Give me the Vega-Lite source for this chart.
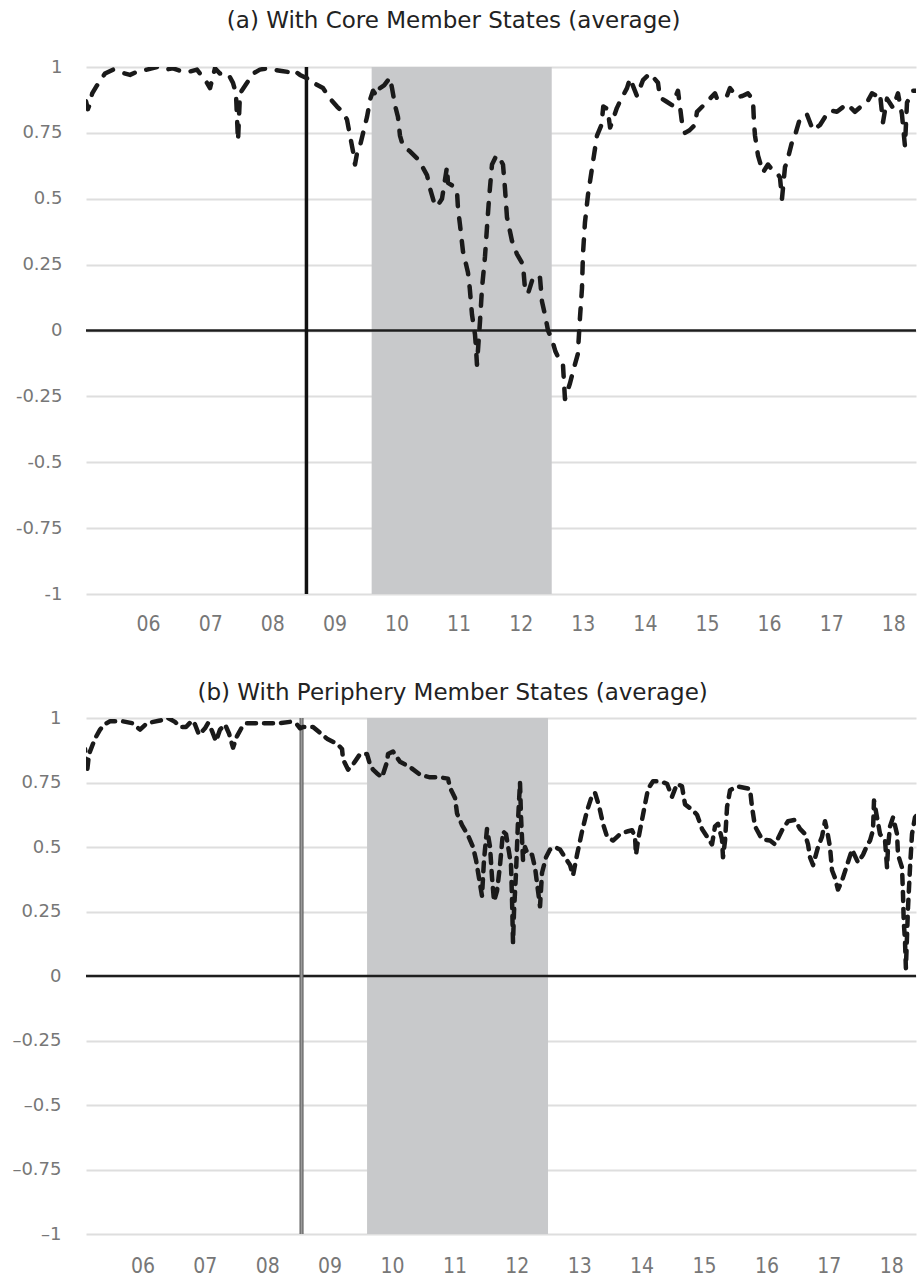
{
  "$schema": "https://vega.github.io/schema/vega-lite/v6.json",
  "background": "white",
  "padding": {"left": 0, "right": 1, "top": 10, "bottom": 0},
  "spacing": 48,
  "columns": 1,
  "config": {
    "view": {"stroke": null},
    "axisX": {"grid": false, "domain": false, "ticks": false, "labelFont": "Liberation Sans Narrow, DejaVu Sans Condensed, sans-serif", "labelFontSize": 21, "labelColor": "#777777", "labelFlush": false, "labelOverlap": false, "labelBound": false},
    "axisY": {"grid": true, "gridColor": "#dedede", "gridWidth": 2, "domain": false, "ticks": false, "labelFont": "DejaVu Sans", "labelFontSize": 18, "labelColor": "#777777", "labelOverlap": false, "labelFlush": false, "labelBound": false},
    "title": {"font": "DejaVu Sans", "fontSize": 23, "fontWeight": "normal", "color": "#222222"}
  },
  "datasets": {
    "crisis": [{"start": 2009.6, "end": 2012.5}],
    "lehman": [{"date": 2008.55}],
    "zero": [{"level": 0}],
    "core": [
      {"year": 2005.000, "value": 0.87}, {"year": 2005.030, "value": 0.84}, {"year": 2005.064, "value": 0.86}, {"year": 2005.100, "value": 0.90},
      {"year": 2005.177, "value": 0.93}, {"year": 2005.306, "value": 0.975}, {"year": 2005.435, "value": 0.99}, {"year": 2005.560, "value": 0.98},
      {"year": 2005.709, "value": 0.97}, {"year": 2005.850, "value": 0.985}, {"year": 2005.982, "value": 0.99}, {"year": 2006.143, "value": 1.0},
      {"year": 2006.280, "value": 0.99}, {"year": 2006.401, "value": 0.995}, {"year": 2006.520, "value": 0.985}, {"year": 2006.626, "value": 0.98},
      {"year": 2006.787, "value": 0.99}, {"year": 2006.948, "value": 0.94}, {"year": 2006.997, "value": 0.92}, {"year": 2007.077, "value": 0.995},
      {"year": 2007.158, "value": 0.975}, {"year": 2007.287, "value": 0.975}, {"year": 2007.367, "value": 0.94}, {"year": 2007.415, "value": 0.90},
      {"year": 2007.448, "value": 0.72}, {"year": 2007.480, "value": 0.90}, {"year": 2007.593, "value": 0.94}, {"year": 2007.689, "value": 0.975},
      {"year": 2007.800, "value": 0.99}, {"year": 2007.915, "value": 0.995}, {"year": 2008.011, "value": 0.99}, {"year": 2008.150, "value": 0.985},
      {"year": 2008.285, "value": 0.98}, {"year": 2008.333, "value": 0.99}, {"year": 2008.446, "value": 0.97}, {"year": 2008.559, "value": 0.957},
      {"year": 2008.607, "value": 0.94}, {"year": 2008.700, "value": 0.935}, {"year": 2008.816, "value": 0.92}, {"year": 2008.930, "value": 0.88},
      {"year": 2009.042, "value": 0.85}, {"year": 2009.130, "value": 0.83}, {"year": 2009.203, "value": 0.80}, {"year": 2009.251, "value": 0.74},
      {"year": 2009.300, "value": 0.68}, {"year": 2009.332, "value": 0.63}, {"year": 2009.370, "value": 0.68}, {"year": 2009.412, "value": 0.70},
      {"year": 2009.493, "value": 0.78}, {"year": 2009.525, "value": 0.81}, {"year": 2009.580, "value": 0.88}, {"year": 2009.622, "value": 0.91},
      {"year": 2009.680, "value": 0.89}, {"year": 2009.734, "value": 0.92}, {"year": 2009.800, "value": 0.93}, {"year": 2009.895, "value": 0.96},
      {"year": 2009.928, "value": 0.92}, {"year": 2009.976, "value": 0.855}, {"year": 2010.024, "value": 0.81}, {"year": 2010.056, "value": 0.74},
      {"year": 2010.105, "value": 0.70}, {"year": 2010.160, "value": 0.69}, {"year": 2010.217, "value": 0.68}, {"year": 2010.346, "value": 0.65},
      {"year": 2010.420, "value": 0.62}, {"year": 2010.491, "value": 0.59}, {"year": 2010.539, "value": 0.54}, {"year": 2010.600, "value": 0.49},
      {"year": 2010.652, "value": 0.47}, {"year": 2010.733, "value": 0.50}, {"year": 2010.813, "value": 0.62}, {"year": 2010.829, "value": 0.56},
      {"year": 2010.900, "value": 0.55}, {"year": 2010.974, "value": 0.53}, {"year": 2010.990, "value": 0.465}, {"year": 2011.023, "value": 0.40},
      {"year": 2011.071, "value": 0.30}, {"year": 2011.151, "value": 0.22}, {"year": 2011.180, "value": 0.16}, {"year": 2011.216, "value": 0.06},
      {"year": 2011.264, "value": -0.015}, {"year": 2011.280, "value": -0.065}, {"year": 2011.296, "value": -0.13}, {"year": 2011.345, "value": 0.035},
      {"year": 2011.377, "value": 0.16}, {"year": 2011.425, "value": 0.28}, {"year": 2011.457, "value": 0.39}, {"year": 2011.490, "value": 0.50},
      {"year": 2011.538, "value": 0.63}, {"year": 2011.600, "value": 0.66}, {"year": 2011.634, "value": 0.665}, {"year": 2011.715, "value": 0.63},
      {"year": 2011.747, "value": 0.54}, {"year": 2011.779, "value": 0.43}, {"year": 2011.860, "value": 0.34}, {"year": 2011.940, "value": 0.29},
      {"year": 2012.037, "value": 0.25}, {"year": 2012.069, "value": 0.16}, {"year": 2012.118, "value": 0.14}, {"year": 2012.198, "value": 0.20},
      {"year": 2012.260, "value": 0.21}, {"year": 2012.311, "value": 0.20}, {"year": 2012.343, "value": 0.11}, {"year": 2012.391, "value": 0.06},
      {"year": 2012.440, "value": 0.00}, {"year": 2012.504, "value": -0.035}, {"year": 2012.560, "value": -0.08}, {"year": 2012.601, "value": -0.10},
      {"year": 2012.681, "value": -0.13}, {"year": 2012.713, "value": -0.26}, {"year": 2012.794, "value": -0.20}, {"year": 2012.860, "value": -0.14},
      {"year": 2012.920, "value": -0.09}, {"year": 2012.955, "value": 0.05}, {"year": 2012.987, "value": 0.16}, {"year": 2013.003, "value": 0.29},
      {"year": 2013.035, "value": 0.41}, {"year": 2013.084, "value": 0.515}, {"year": 2013.164, "value": 0.64}, {"year": 2013.229, "value": 0.74},
      {"year": 2013.300, "value": 0.78}, {"year": 2013.330, "value": 0.85}, {"year": 2013.400, "value": 0.84}, {"year": 2013.440, "value": 0.77},
      {"year": 2013.550, "value": 0.845}, {"year": 2013.600, "value": 0.87}, {"year": 2013.712, "value": 0.92}, {"year": 2013.760, "value": 0.957},
      {"year": 2013.873, "value": 0.89}, {"year": 2013.969, "value": 0.95}, {"year": 2014.082, "value": 0.976}, {"year": 2014.211, "value": 0.94},
      {"year": 2014.243, "value": 0.885}, {"year": 2014.340, "value": 0.87}, {"year": 2014.436, "value": 0.855}, {"year": 2014.533, "value": 0.91},
      {"year": 2014.597, "value": 0.79}, {"year": 2014.646, "value": 0.75}, {"year": 2014.720, "value": 0.76}, {"year": 2014.807, "value": 0.78},
      {"year": 2014.839, "value": 0.83}, {"year": 2014.968, "value": 0.86}, {"year": 2015.129, "value": 0.90}, {"year": 2015.161, "value": 0.88},
      {"year": 2015.322, "value": 0.89}, {"year": 2015.370, "value": 0.92}, {"year": 2015.483, "value": 0.885}, {"year": 2015.570, "value": 0.89},
      {"year": 2015.660, "value": 0.90}, {"year": 2015.741, "value": 0.875}, {"year": 2015.757, "value": 0.79}, {"year": 2015.773, "value": 0.74},
      {"year": 2015.821, "value": 0.665}, {"year": 2015.902, "value": 0.60}, {"year": 2015.982, "value": 0.63}, {"year": 2016.050, "value": 0.61},
      {"year": 2016.127, "value": 0.60}, {"year": 2016.176, "value": 0.58}, {"year": 2016.208, "value": 0.50}, {"year": 2016.256, "value": 0.62},
      {"year": 2016.288, "value": 0.64}, {"year": 2016.369, "value": 0.715}, {"year": 2016.417, "value": 0.74}, {"year": 2016.498, "value": 0.805},
      {"year": 2016.610, "value": 0.82}, {"year": 2016.707, "value": 0.76}, {"year": 2016.820, "value": 0.78}, {"year": 2016.900, "value": 0.81},
      {"year": 2016.981, "value": 0.835}, {"year": 2017.093, "value": 0.83}, {"year": 2017.254, "value": 0.86}, {"year": 2017.383, "value": 0.83},
      {"year": 2017.480, "value": 0.85}, {"year": 2017.576, "value": 0.865}, {"year": 2017.657, "value": 0.90}, {"year": 2017.738, "value": 0.89},
      {"year": 2017.786, "value": 0.90}, {"year": 2017.834, "value": 0.79}, {"year": 2017.899, "value": 0.88}, {"year": 2017.995, "value": 0.845},
      {"year": 2018.076, "value": 0.90}, {"year": 2018.140, "value": 0.82}, {"year": 2018.188, "value": 0.70}, {"year": 2018.221, "value": 0.865},
      {"year": 2018.317, "value": 0.91}, {"year": 2018.366, "value": 0.91}
    ],
    "periphery": [
      {"year": 2005.000, "value": 0.86}, {"year": 2005.080, "value": 0.88}, {"year": 2005.096, "value": 0.84}, {"year": 2005.112, "value": 0.79},
      {"year": 2005.144, "value": 0.86}, {"year": 2005.176, "value": 0.88}, {"year": 2005.240, "value": 0.92}, {"year": 2005.321, "value": 0.955},
      {"year": 2005.385, "value": 0.975}, {"year": 2005.481, "value": 0.987}, {"year": 2005.689, "value": 0.987}, {"year": 2005.833, "value": 0.98},
      {"year": 2005.962, "value": 0.955}, {"year": 2006.074, "value": 0.98}, {"year": 2006.282, "value": 0.99}, {"year": 2006.410, "value": 1.0},
      {"year": 2006.522, "value": 0.985}, {"year": 2006.603, "value": 0.965}, {"year": 2006.699, "value": 0.965}, {"year": 2006.795, "value": 0.99},
      {"year": 2006.843, "value": 0.975}, {"year": 2006.907, "value": 0.935}, {"year": 2007.003, "value": 0.96}, {"year": 2007.051, "value": 0.98},
      {"year": 2007.115, "value": 0.95}, {"year": 2007.179, "value": 0.91}, {"year": 2007.244, "value": 0.955}, {"year": 2007.324, "value": 0.975},
      {"year": 2007.388, "value": 0.94}, {"year": 2007.452, "value": 0.885}, {"year": 2007.516, "value": 0.93}, {"year": 2007.596, "value": 0.965},
      {"year": 2007.676, "value": 0.98}, {"year": 2007.885, "value": 0.98}, {"year": 2008.205, "value": 0.98}, {"year": 2008.365, "value": 0.985},
      {"year": 2008.478, "value": 0.975}, {"year": 2008.526, "value": 0.96}, {"year": 2008.574, "value": 0.965}, {"year": 2008.734, "value": 0.965},
      {"year": 2008.958, "value": 0.92}, {"year": 2009.119, "value": 0.90}, {"year": 2009.199, "value": 0.88}, {"year": 2009.215, "value": 0.84},
      {"year": 2009.295, "value": 0.80}, {"year": 2009.375, "value": 0.82}, {"year": 2009.487, "value": 0.86}, {"year": 2009.535, "value": 0.86},
      {"year": 2009.599, "value": 0.86}, {"year": 2009.647, "value": 0.82}, {"year": 2009.696, "value": 0.80}, {"year": 2009.760, "value": 0.785},
      {"year": 2009.840, "value": 0.77}, {"year": 2009.920, "value": 0.83}, {"year": 2009.936, "value": 0.86}, {"year": 2010.016, "value": 0.87},
      {"year": 2010.128, "value": 0.83}, {"year": 2010.288, "value": 0.81}, {"year": 2010.449, "value": 0.78}, {"year": 2010.609, "value": 0.77},
      {"year": 2010.769, "value": 0.77}, {"year": 2010.897, "value": 0.765}, {"year": 2010.929, "value": 0.73}, {"year": 2011.010, "value": 0.69},
      {"year": 2011.042, "value": 0.63}, {"year": 2011.122, "value": 0.585}, {"year": 2011.218, "value": 0.545}, {"year": 2011.298, "value": 0.50},
      {"year": 2011.346, "value": 0.45}, {"year": 2011.394, "value": 0.38}, {"year": 2011.442, "value": 0.31}, {"year": 2011.474, "value": 0.45},
      {"year": 2011.522, "value": 0.57}, {"year": 2011.571, "value": 0.50}, {"year": 2011.603, "value": 0.38}, {"year": 2011.635, "value": 0.29},
      {"year": 2011.683, "value": 0.33}, {"year": 2011.731, "value": 0.43}, {"year": 2011.779, "value": 0.56}, {"year": 2011.827, "value": 0.55},
      {"year": 2011.875, "value": 0.48}, {"year": 2011.907, "value": 0.43}, {"year": 2011.923, "value": 0.30}, {"year": 2011.939, "value": 0.13},
      {"year": 2011.955, "value": 0.25}, {"year": 2011.987, "value": 0.40}, {"year": 2012.019, "value": 0.60}, {"year": 2012.051, "value": 0.75},
      {"year": 2012.067, "value": 0.62}, {"year": 2012.099, "value": 0.45}, {"year": 2012.131, "value": 0.50}, {"year": 2012.179, "value": 0.47},
      {"year": 2012.244, "value": 0.47}, {"year": 2012.292, "value": 0.42}, {"year": 2012.340, "value": 0.33}, {"year": 2012.372, "value": 0.27},
      {"year": 2012.404, "value": 0.40}, {"year": 2012.468, "value": 0.46}, {"year": 2012.532, "value": 0.49}, {"year": 2012.612, "value": 0.50},
      {"year": 2012.692, "value": 0.49}, {"year": 2012.772, "value": 0.46}, {"year": 2012.853, "value": 0.43}, {"year": 2012.901, "value": 0.39},
      {"year": 2012.965, "value": 0.47}, {"year": 2013.045, "value": 0.56}, {"year": 2013.125, "value": 0.64}, {"year": 2013.205, "value": 0.70},
      {"year": 2013.253, "value": 0.71}, {"year": 2013.317, "value": 0.66}, {"year": 2013.381, "value": 0.59}, {"year": 2013.446, "value": 0.54},
      {"year": 2013.542, "value": 0.525}, {"year": 2013.654, "value": 0.55}, {"year": 2013.766, "value": 0.56}, {"year": 2013.846, "value": 0.565},
      {"year": 2013.894, "value": 0.54}, {"year": 2013.910, "value": 0.47}, {"year": 2013.942, "value": 0.525}, {"year": 2014.006, "value": 0.605},
      {"year": 2014.054, "value": 0.665}, {"year": 2014.103, "value": 0.725}, {"year": 2014.183, "value": 0.755}, {"year": 2014.295, "value": 0.755},
      {"year": 2014.407, "value": 0.745}, {"year": 2014.487, "value": 0.695}, {"year": 2014.567, "value": 0.745}, {"year": 2014.647, "value": 0.735},
      {"year": 2014.696, "value": 0.665}, {"year": 2014.808, "value": 0.645}, {"year": 2014.888, "value": 0.625}, {"year": 2014.968, "value": 0.57},
      {"year": 2015.048, "value": 0.54}, {"year": 2015.128, "value": 0.51}, {"year": 2015.176, "value": 0.58}, {"year": 2015.224, "value": 0.59},
      {"year": 2015.288, "value": 0.53}, {"year": 2015.304, "value": 0.46}, {"year": 2015.337, "value": 0.525}, {"year": 2015.369, "value": 0.655},
      {"year": 2015.417, "value": 0.72}, {"year": 2015.529, "value": 0.735}, {"year": 2015.737, "value": 0.725}, {"year": 2015.769, "value": 0.655},
      {"year": 2015.817, "value": 0.58}, {"year": 2015.929, "value": 0.53}, {"year": 2016.058, "value": 0.525}, {"year": 2016.138, "value": 0.51},
      {"year": 2016.250, "value": 0.565}, {"year": 2016.346, "value": 0.60}, {"year": 2016.458, "value": 0.605}, {"year": 2016.538, "value": 0.57},
      {"year": 2016.619, "value": 0.55}, {"year": 2016.667, "value": 0.51}, {"year": 2016.699, "value": 0.46}, {"year": 2016.747, "value": 0.43},
      {"year": 2016.827, "value": 0.50}, {"year": 2016.891, "value": 0.54}, {"year": 2016.939, "value": 0.60}, {"year": 2016.971, "value": 0.565},
      {"year": 2017.019, "value": 0.50}, {"year": 2017.051, "value": 0.41}, {"year": 2017.099, "value": 0.38}, {"year": 2017.147, "value": 0.335},
      {"year": 2017.212, "value": 0.37}, {"year": 2017.292, "value": 0.43}, {"year": 2017.372, "value": 0.49}, {"year": 2017.468, "value": 0.44},
      {"year": 2017.548, "value": 0.47}, {"year": 2017.612, "value": 0.505}, {"year": 2017.660, "value": 0.525}, {"year": 2017.708, "value": 0.565},
      {"year": 2017.724, "value": 0.68}, {"year": 2017.772, "value": 0.615}, {"year": 2017.821, "value": 0.55}, {"year": 2017.901, "value": 0.525},
      {"year": 2017.933, "value": 0.42}, {"year": 2017.949, "value": 0.50}, {"year": 2017.981, "value": 0.58}, {"year": 2018.029, "value": 0.615},
      {"year": 2018.093, "value": 0.55}, {"year": 2018.109, "value": 0.47}, {"year": 2018.173, "value": 0.42}, {"year": 2018.189, "value": 0.315},
      {"year": 2018.200, "value": 0.215}, {"year": 2018.221, "value": 0.135}, {"year": 2018.235, "value": 0.03}, {"year": 2018.269, "value": 0.265},
      {"year": 2018.301, "value": 0.42}, {"year": 2018.333, "value": 0.55}, {"year": 2018.381, "value": 0.615}, {"year": 2018.397, "value": 0.62}
    ]
  },
  "concat": [
    {
      "width": 830,
      "height": 527,
      "title": {"text": "(a) With Core Member States (average)", "anchor": "middle", "frame": "bounds", "offset": 25, "dx": -5},
      "layer": [
        {
          "data": {"name": "crisis"},
          "mark": {"type": "rect", "color": "#c8c9cb"},
          "encoding": {
            "x": {"field": "start", "type": "quantitative", "scale": {"domain": [2005, 2018.366], "nice": false, "zero": false}, "title": null},
            "x2": {"field": "end"},
            "y": {"datum": -1, "type": "quantitative", "scale": {"domain": [-1, 1], "nice": false, "zero": false}, "title": null},
            "y2": {"datum": 1}
          }
        },
        {
          "data": {"name": "zero"},
          "mark": {"type": "rule", "color": "#1e1e1e", "strokeWidth": 2.5},
          "encoding": {
            "y": {"field": "level", "type": "quantitative", "scale": {"domain": [-1, 1], "nice": false, "zero": false}, "title": null}
          }
        },
        {
          "data": {"name": "lehman"},
          "mark": {"type": "rule", "color": "#111111", "strokeWidth": 3.5},
          "encoding": {
            "x": {"field": "date", "type": "quantitative", "scale": {"domain": [2005, 2018.366], "nice": false, "zero": false}, "title": null}
          }
        },
        {
          "data": {"name": "core"},
          "mark": {"type": "line", "color": "#1a1a1a", "strokeWidth": 4.5, "strokeDash": [11, 12], "strokeCap": "round", "strokeJoin": "round", "clip": true},
          "encoding": {
            "x": {"field": "year", "type": "quantitative", "scale": {"domain": [2005, 2018.366], "nice": false, "zero": false}, "title": null,
              "axis": {"values": [2006, 2007, 2008, 2009, 2010, 2011, 2012, 2013, 2014, 2015, 2016, 2017, 2018], "labelExpr": "substring(toString(datum.value), 2, 4)", "labelPadding": 19}},
            "y": {"field": "value", "type": "quantitative", "scale": {"domain": [-1, 1], "nice": false, "zero": false}, "title": null,
              "axis": {"values": [-1, -0.75, -0.5, -0.25, 0, 0.25, 0.5, 0.75, 1], "labelExpr": "datum.value < 0 ? '-' + format(-datum.value, '~g') : format(datum.value, '~g')", "labelPadding": 24, "minExtent": 86, "maxExtent": 86}}
          }
        }
      ]
    },
    {
      "width": 830,
      "height": 516,
      "title": {"text": "(b) With Periphery Member States (average)", "anchor": "middle", "frame": "bounds", "offset": 4, "dx": -6},
      "layer": [
        {
          "data": {"name": "crisis"},
          "mark": {"type": "rect", "color": "#c8c9cb"},
          "encoding": {
            "x": {"field": "start", "type": "quantitative", "scale": {"domain": [2005.096, 2018.397], "nice": false, "zero": false}, "title": null},
            "x2": {"field": "end"},
            "y": {"datum": -1, "type": "quantitative", "scale": {"domain": [-1, 1], "nice": false, "zero": false}, "title": null},
            "y2": {"datum": 1}
          }
        },
        {
          "data": {"name": "zero"},
          "mark": {"type": "rule", "color": "#1e1e1e", "strokeWidth": 2.5},
          "encoding": {
            "y": {"field": "level", "type": "quantitative", "scale": {"domain": [-1, 1], "nice": false, "zero": false}, "title": null}
          }
        },
        {
          "data": {"name": "lehman"},
          "mark": {"type": "rule", "color": "#555555", "strokeWidth": 4},
          "encoding": {
            "x": {"field": "date", "type": "quantitative", "scale": {"domain": [2005.096, 2018.397], "nice": false, "zero": false}, "title": null}
          }
        },
        {
          "data": {"name": "lehman"},
          "mark": {"type": "rule", "color": "#9a9a9a", "strokeWidth": 2},
          "encoding": {
            "x": {"field": "date", "type": "quantitative", "scale": {"domain": [2005.096, 2018.397], "nice": false, "zero": false}, "title": null}
          }
        },
        {
          "data": {"name": "periphery"},
          "mark": {"type": "line", "color": "#1a1a1a", "strokeWidth": 4.5, "strokeDash": [9, 8], "strokeCap": "round", "strokeJoin": "round", "clip": true},
          "encoding": {
            "x": {"field": "year", "type": "quantitative", "scale": {"domain": [2005.096, 2018.397], "nice": false, "zero": false}, "title": null,
              "axis": {"values": [2006, 2007, 2008, 2009, 2010, 2011, 2012, 2013, 2014, 2015, 2016, 2017, 2018], "labelExpr": "substring(toString(datum.value), 2, 4)", "labelPadding": 21}},
            "y": {"field": "value", "type": "quantitative", "scale": {"domain": [-1, 1], "nice": false, "zero": false}, "title": null,
              "axis": {"values": [-1, -0.75, -0.5, -0.25, 0, 0.25, 0.5, 0.75, 1], "labelExpr": "datum.value < 0 ? '–' + format(-datum.value, '~g') : format(datum.value, '~g')", "labelPadding": 25, "minExtent": 86, "maxExtent": 86}}
          }
        }
      ]
    }
  ]
}
